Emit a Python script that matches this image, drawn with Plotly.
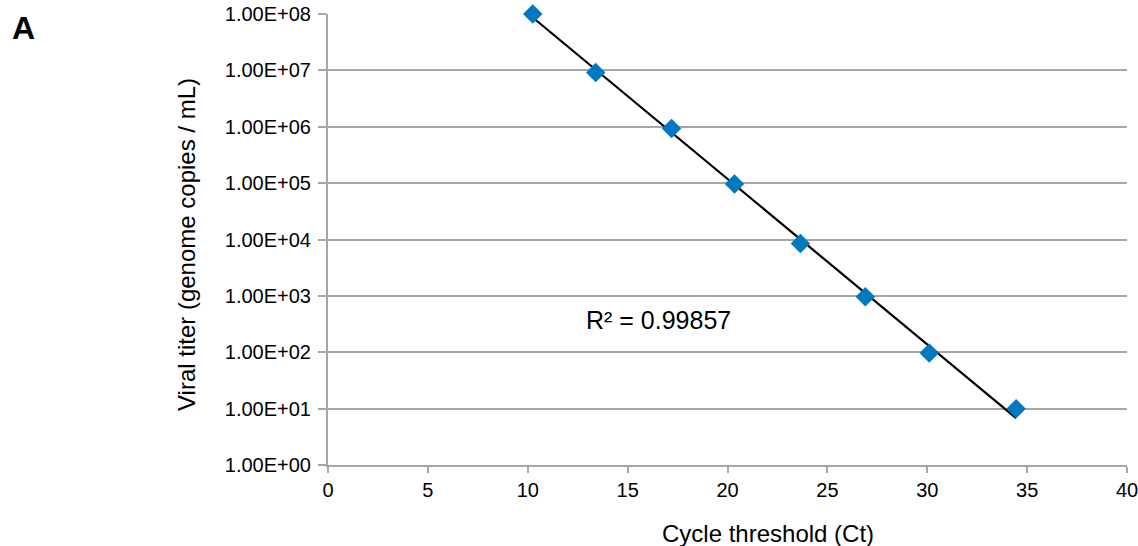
import numpy as np
import plotly.graph_objects as go

# Data
ct_values = [10.25, 13.4, 17.2, 20.35, 23.65, 26.9, 30.1, 34.45]
titer_values = [1.0e8, 9.2e6, 9.3e5, 9.6e4, 8.5e3, 9.6e2, 9.7e1, 1.0e1]
y_tick_vals = [1e0, 1e1, 1e2, 1e3, 1e4, 1e5, 1e6, 1e7, 1e8]
y_tick_text = ["1.00E+00", "1.00E+01", "1.00E+02", "1.00E+03", "1.00E+04",
               "1.00E+05", "1.00E+06", "1.00E+07", "1.00E+08"]
r2_label = "R² = 0.99857"

# Exponential trendline (linear fit in log10 space)
x = np.array(ct_values)
ly = np.log10(np.array(titer_values))
b, a = np.polyfit(x, ly, 1)
x_fit = np.array([x.min(), x.max()])
y_fit = 10 ** (a + b * x_fit)

FONT = "Liberation Sans, Arial, sans-serif"
GRID = "#a6a6a6"

# plot area in pixels
L, R, T, B = 328, 1127, 14, 465
W, H = R - L, B - T


def px(xp):
    return (xp - L) / W


def py(yp):
    return (B - yp) / H


fig = go.Figure()
fig.add_trace(go.Scatter(x=x_fit, y=y_fit, mode="lines", cliponaxis=False,
                         line=dict(color="black", width=2.2), showlegend=False,
                         hoverinfo="skip"))
fig.add_trace(go.Scatter(x=ct_values, y=titer_values, mode="markers", cliponaxis=False,
                         marker=dict(symbol="diamond", size=15, color="#0079c1",
                                     line=dict(width=0)),
                         showlegend=False))

fig.update_layout(
    width=1138, height=546,
    margin=dict(l=L, r=1138 - R, t=T, b=546 - B),
    paper_bgcolor="white", plot_bgcolor="white",
    font=dict(family=FONT, size=20, color="black"),
    xaxis=dict(range=[0, 40], dtick=5, tick0=0, showgrid=False, automargin=False,
               showline=True, linecolor=GRID, linewidth=2,
               ticks="outside", ticklen=6, tickwidth=2, tickcolor=GRID,
               ticklabeloverflow="allow",
               zeroline=False, tickfont=dict(size=20, family=FONT)),
    yaxis=dict(type="log", range=[0, 8], tickvals=y_tick_vals, ticktext=y_tick_text,
               automargin=False, ticklabelstandoff=3,
               showgrid=True, gridcolor=GRID, gridwidth=2,
               showline=True, linecolor=GRID, linewidth=2,
               ticks="outside", ticklen=8, tickwidth=2, tickcolor=GRID,
               zeroline=False, tickfont=dict(size=20, family=FONT)),
    annotations=[
        dict(text="<b>A</b>", xref="paper", yref="paper", x=px(23), y=py(28),
             xanchor="center", yanchor="middle", showarrow=False,
             font=dict(size=32, family=FONT)),
        dict(text=r2_label, xref="paper", yref="paper", x=px(658.5), y=py(320),
             xanchor="center", yanchor="middle", showarrow=False,
             font=dict(size=25, family=FONT)),
        dict(text="Cycle threshold (Ct)", xref="paper", yref="paper",
             x=px(767.5), y=py(533), xanchor="center", yanchor="middle",
             showarrow=False, font=dict(size=24, family=FONT)),
        dict(text="Viral titer (genome copies / mL)", xref="paper", yref="paper",
             x=px(186), y=py(245), xanchor="center", yanchor="middle",
             textangle=-90, showarrow=False, font=dict(size=24, family=FONT)),
    ],
)

fig.write_html("out.html", config={"displayModeBar": False},
               post_script="document.body.style.margin='0px';document.body.style.overflow='hidden';")
